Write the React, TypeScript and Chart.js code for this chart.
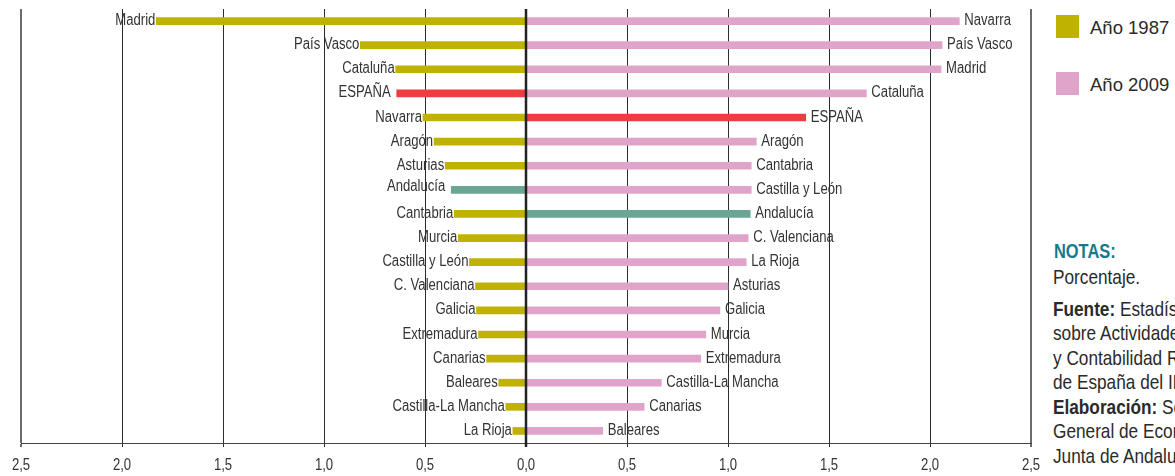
import React, { useEffect, useRef } from "react";
import { Chart, registerables } from "chart.js";

Chart.register(...registerables);

// Rank positions (top to bottom)
const ranks = ["1", "2", "3", "4", "5", "6", "7", "8", "9", "10", "11", "12", "13", "14", "15", "16", "17", "18"];

// Año 1987 (left side), sorted by value
const regions1987 = [
  "Madrid", "País Vasco", "Cataluña", "ESPAÑA", "Navarra", "Aragón", "Asturias", "Andalucía", "Cantabria",
  "Murcia", "Castilla y León", "C. Valenciana", "Galicia", "Extremadura", "Canarias", "Baleares",
  "Castilla-La Mancha", "La Rioja",
];
const values1987 = [1.83, 0.82, 0.645, 0.64, 0.51, 0.455, 0.40, 0.37, 0.355, 0.335, 0.28, 0.25, 0.245, 0.235, 0.195, 0.135, 0.10, 0.065];

// Año 2009 (right side), sorted by value
const regions2009 = [
  "Navarra", "País Vasco", "Madrid", "Cataluña", "ESPAÑA", "Aragón", "Cantabria", "Castilla y León", "Andalucía",
  "C. Valenciana", "La Rioja", "Asturias", "Galicia", "Murcia", "Extremadura", "Castilla-La Mancha", "Canarias",
  "Baleares",
];
const values2009 = [2.145, 2.06, 2.055, 1.685, 1.385, 1.14, 1.115, 1.115, 1.11, 1.10, 1.09, 1.0, 0.96, 0.89, 0.865, 0.67, 0.585, 0.38];

const tickValues = [-2.5, -2, -1.5, -1, -0.5, 0, 0.5, 1, 1.5, 2, 2.5];
const tickLabels = ["2,5", "2,0", "1,5", "1,0", "0,5", "0,0", "0,5", "1,0", "1,5", "2,0", "2,5"];

const legendItems = ["Año 1987", "Año 2009"];

const COLOR_1987 = "#bfb200";
const COLOR_2009 = "#e0a4ca";
const COLOR_SPAIN = "#ef3c43";
const COLOR_ANDALUCIA = "#6ba595";
const TEXT = "#333333";
const SANS = '"Liberation Sans", Arial, sans-serif';
const NARROW_SCALE = 0.82;

const colorFor = (name: string, base: string) =>
  name === "ESPAÑA" ? COLOR_SPAIN : name === "Andalucía" ? COLOR_ANDALUCIA : base;

function narrowText(ctx: CanvasRenderingContext2D, text: string, x: number, y: number, align: CanvasTextAlign) {
  ctx.save();
  ctx.translate(x, y);
  ctx.scale(NARROW_SCALE, 1);
  ctx.textAlign = align;
  ctx.fillText(text, 0, 0);
  ctx.restore();
}

const labelPlugin = {
  id: "barLabels",
  afterDatasetsDraw(chart: any) {
    const { ctx, chartArea, scales } = chart;
    ctx.save();
    // zero line on top
    const x0 = scales.x.getPixelForValue(0);
    ctx.strokeStyle = "#222";
    ctx.lineWidth = 2.5;
    ctx.beginPath();
    ctx.moveTo(x0, chartArea.top);
    ctx.lineTo(x0, chartArea.bottom + 4);
    ctx.stroke();

    ctx.font = `16px ${SANS}`;
    ctx.fillStyle = TEXT;
    ctx.textBaseline = "alphabetic";
    const m0 = chart.getDatasetMeta(0);
    m0.data.forEach((el: any, i: number) => {
      const name = regions1987[i];
      const special = name === "ESPAÑA" || name === "Andalucía";
      narrowText(ctx, name, el.x - (special ? 6 : 1), el.y + 4 - (name === "Andalucía" ? 3 : 0), "right");
    });
    const m1 = chart.getDatasetMeta(1);
    m1.data.forEach((el: any, i: number) => {
      narrowText(ctx, regions2009[i], el.x + 5, el.y + 4, "left");
    });

    // x tick labels
    ctx.font = `16px ${SANS}`;
    ctx.fillStyle = TEXT;
    tickValues.forEach((v, i) => {
      narrowText(ctx, tickLabels[i], scales.x.getPixelForValue(v), chartArea.bottom + 27, "center");
    });
    ctx.restore();
  },
};

function ChartCanvas() {
  const ref = useRef<HTMLCanvasElement | null>(null);
  useEffect(() => {
    if (!ref.current) return;
    const chart = new Chart(ref.current, {
      type: "bar",
      data: {
        labels: ranks,
        datasets: [
          {
            label: legendItems[0],
            data: values1987.map((v) => -v),
            backgroundColor: regions1987.map((n) => colorFor(n, COLOR_1987)),
            barThickness: 7,
            grouped: false,
            borderWidth: 0,
          } as any,
          {
            label: legendItems[1],
            data: values2009,
            backgroundColor: regions2009.map((n) => colorFor(n, COLOR_2009)),
            barThickness: 7,
            grouped: false,
            borderWidth: 0,
          } as any,
        ],
      },
      options: {
        indexAxis: "y",
        responsive: false,
        animation: false,
        layout: { padding: { left: 21, right: 14, top: 9, bottom: 29 } },
        plugins: { legend: { display: false }, tooltip: { enabled: false } },
        scales: {
          x: {
            type: "linear",
            min: -2.5,
            max: 2.5,
            ticks: { stepSize: 0.5, display: false },
            grid: {
              drawTicks: true,
              tickLength: 4,
              color: (c: any) => (Math.abs(c.tick?.value) === 2.5 ? "#6b6b6b" : "#2b2b2b"),
              lineWidth: (c: any) => (Math.abs(c.tick?.value) === 2.5 ? 2 : 1),
            },
            border: { display: true, color: "#444", width: 1 },
          },
          y: {
            type: "category",
            display: false,
            grid: { display: false },
          },
        },
      },
      plugins: [labelPlugin],
    } as any);
    return () => chart.destroy();
  }, []);
  return <canvas ref={ref} width={1045} height={476} style={{ position: "absolute", left: 0, top: 0 }} />;
}

export default function App() {
  const legendColors = [COLOR_1987, COLOR_2009];
  const legendTops = [15, 72];
  const narrowStyle = {
    position: "absolute" as const,
    left: 1053,
    fontFamily: SANS,
    whiteSpace: "nowrap" as const,
    transform: `scaleX(${NARROW_SCALE})`,
    transformOrigin: "0 0",
  };
  const noteLine = (text: React.ReactNode, top: number, key: string) => (
    <div key={key} style={{ ...narrowStyle, top, fontSize: 21, lineHeight: "24.5px", color: "#2a2a2a" }}>
      {text}
    </div>
  );
  return (
    <div
      style={{
        position: "fixed",
        left: 0,
        top: 0,
        width: 1175,
        height: 476,
        overflow: "hidden",
        background: "#fff",
      }}
    >
      <ChartCanvas />
      {legendItems.map((t, i) => (
        <React.Fragment key={t}>
          <div
            style={{
              position: "absolute",
              left: 1056,
              top: legendTops[i],
              width: 23,
              height: 23,
              background: legendColors[i],
            }}
          />
          <div
            style={{
              position: "absolute",
              left: 1090,
              top: legendTops[i] + 0.5,
              fontFamily: SANS,
              fontSize: 18.5,
              lineHeight: "23px",
              color: "#2a2a2a",
              whiteSpace: "nowrap",
            }}
          >
            {t}
          </div>
        </React.Fragment>
      ))}
      <div
        style={{
          ...narrowStyle,
          left: 1054,
          top: 239,
          fontWeight: "bold",
          fontSize: 20,
          lineHeight: "24px",
          color: "#17798b",
        }}
      >
        NOTAS:
      </div>
      {noteLine("Porcentaje.", 265, "p")}
      {noteLine(<><b>Fuente:</b> Estadística</>, 296.5, "f1")}
      {noteLine("sobre Actividades de I+D", 321, "f2")}
      {noteLine("y Contabilidad Regional", 345.5, "f3")}
      {noteLine("de España del INE.", 370, "f4")}
      {noteLine(<><b>Elaboración:</b> Secretaría</>, 394.5, "e1")}
      {noteLine("General de Economía.", 419, "e2")}
      {noteLine("Junta de Andalucía.", 443.5, "e3")}
    </div>
  );
}
